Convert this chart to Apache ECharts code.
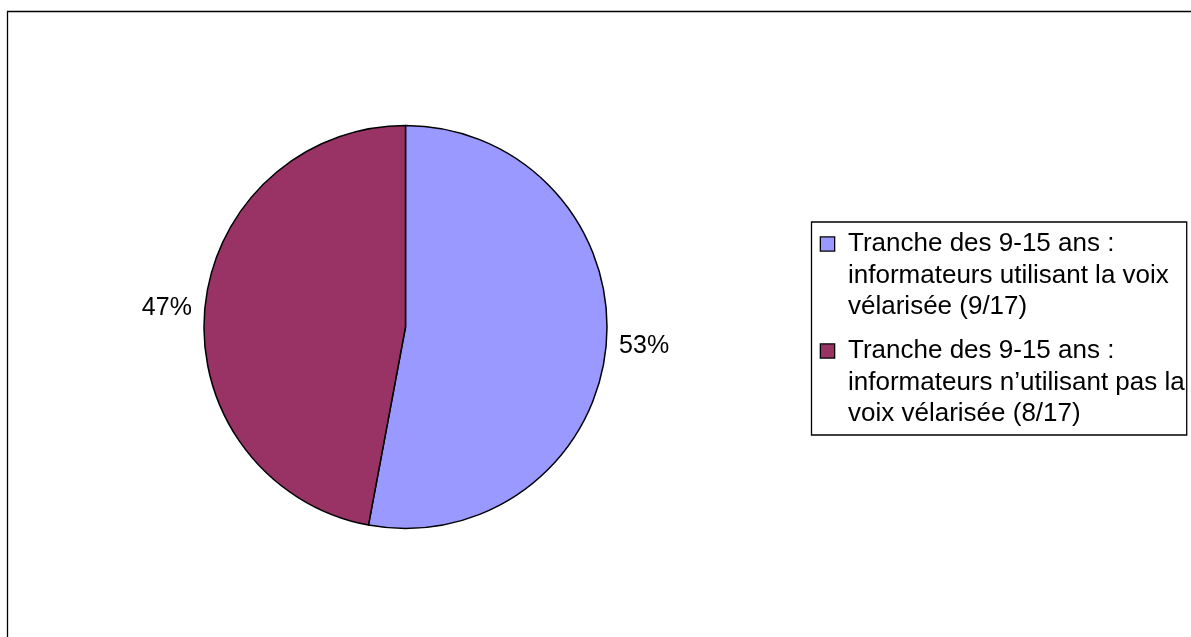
<!DOCTYPE html>
<html>
<head>
<meta charset="utf-8">
<style>
  html, body { margin: 0; padding: 0; background: #fff; }
  #chart { width: 1191px; height: 637px; }
</style>
<script src="https://cdn.jsdelivr.net/npm/echarts@6/dist/echarts.min.js"></script>
</head>
<body>
<div id="chart"></div>
<script>
// categories (legend lines) and values
const categories = [
  ['Tranche des 9-15 ans :', 'informateurs utilisant la voix', 'vélarisée (9/17)'],
  ['Tranche des 9-15 ans :', 'informateurs n\u2019utilisant pas la', 'voix vélarisée (8/17)']
]
const values = [9, 8]
const colors = ['#9999FF', '#993366']

const names = categories.map(lines => lines.join(' '))
const font = 'Liberation Sans, Arial, sans-serif'

const chart = echarts.init(document.getElementById('chart'))

const rich = {
  t: { fontSize: 26, lineHeight: 31.5, color: '#000', fontFamily: font },
  g: { width: 14 },
  s: { width: 27 }
}
colors.forEach((c, i) => {
  rich['b' + i] = { width: 13, height: 13, backgroundColor: c, borderColor: '#000', borderWidth: 1.3 }
})

chart.setOption({
  animation: false,
  color: colors,
  graphic: [{
    type: 'rect',
    shape: { x: 7.5, y: 11.5, width: 1300, height: 800 },
    style: { fill: 'none', stroke: '#000', lineWidth: 1.3 },
    z: 0
  }],
  legend: {
    orient: 'vertical',
    left: 811.5,
    top: 222,
    selectedMode: false,
    icon: 'rect',
    itemWidth: 0,
    itemHeight: 0,
    itemGap: 18,
    padding: [9, 2, 8, 3.5],
    borderColor: '#000',
    borderWidth: 1.3,
    backgroundColor: '#fff',
    data: names,
    formatter: name => {
      const idx = names.indexOf(name)
      const lines = categories[idx]
      return lines.map((l, j) => (j === 0 ? '{b' + idx + '|}{g|}' : '{s|}') + '{t|' + l + '}').join('\n')
    },
    textStyle: { rich: rich }
  },
  series: [{
    type: 'pie',
    center: [405.5, 327],
    radius: 201.5,
    startAngle: 90,
    clockwise: true,
    silent: true,
    percentPrecision: 0,
    itemStyle: { borderColor: '#000', borderWidth: 1.5 },
    label: {
      show: true,
      position: 'outside',
      formatter: '{d}%',
      fontSize: 25,
      fontFamily: font,
      color: '#000',
      distanceToLabelLine: 5
    },
    labelLine: { show: false, length: 8, length2: 0 },
    data: names.map((n, i) => ({ name: n, value: values[i] }))
  }]
})
</script>
</body>
</html>
